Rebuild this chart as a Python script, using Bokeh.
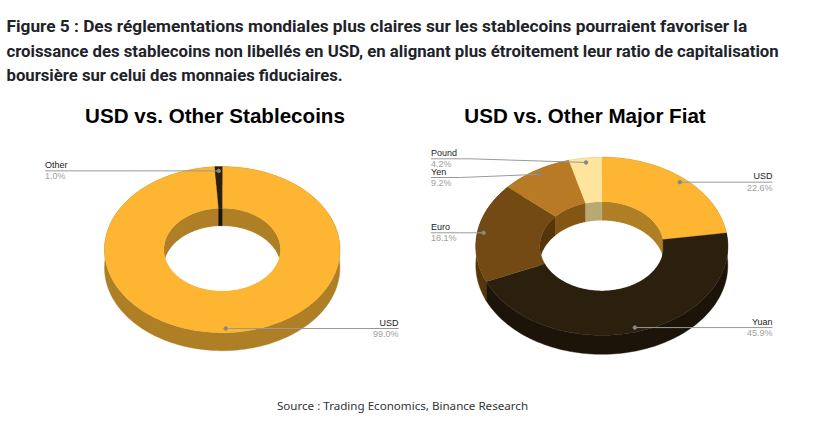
import numpy as np
from bokeh.plotting import figure
from bokeh.models import Range1d
from bokeh.core.properties import value
from bokeh.embed import file_html
from bokeh.resources import INLINE

HEADING = [
    "Figure 5 : Des réglementations mondiales plus claires sur les stablecoins pourraient favoriser la",
    "croissance des stablecoins non libellés en USD, en alignant plus étroitement leur ratio de capitalisation",
    "boursière sur celui des monnaies fiduciaires.",
]
SOURCE = "Source : Trading Economics, Binance Research"

left_title = "USD vs. Other Stablecoins"
left_labels = ["USD", "Other"]
left_values = [99.0, 1.0]
left_top = ["#FDB532", "#2B1F0E"]
left_wall = ["#AF7F26", "#1C1309"]

right_title = "USD vs. Other Major Fiat"
right_labels = ["USD", "Yuan", "Euro", "Yen", "Pound"]
right_values = [22.6, 45.9, 18.1, 9.2, 4.2]
right_top = ["#FDB532", "#2B1F0E", "#734A13", "#B87A24", "#FFE49D"]
right_wall = ["#AF7F26", "#1C1309", "#553609", "#835614", "#B8A872"]

W, H = 826, 422
p = figure(width=W, height=H, output_backend="svg", toolbar_location=None,
           x_range=Range1d(0, W), y_range=Range1d(H, 0),
           min_border=0, outline_line_color=None, margin=0)
p.axis.visible = False
p.grid.visible = False
p.xaxis.visible = False
p.yaxis.visible = False


def arc(cx, cy, rx, ry, a0, a1, dy=0.0):
    n = max(4, int(abs(a1 - a0) / 1.5))
    t = np.radians(np.linspace(a0, a1, n))
    return cx + rx * np.sin(t), cy - ry * np.cos(t) + dy


def donut(values, top, wall, cx, cy, rx, ry, irx, iry, depth):
    v = np.asarray(values, dtype=float)
    edges = np.concatenate([[0], np.cumsum(v) / v.sum() * 360])
    for i in range(len(v)):
        x, y = arc(cx, cy, rx, ry, edges[i], edges[i + 1])
        x2, y2 = x[::-1], y[::-1] + depth
        p.patch(np.r_[x, x2], np.r_[y, y2], fill_color=wall[i], line_color=wall[i], line_width=0.4)
    for i in range(len(v)):
        x, y = arc(cx, cy, irx, iry, edges[i], edges[i + 1])
        x2, y2 = x[::-1], y[::-1] + depth
        p.patch(np.r_[x, x2], np.r_[y, y2], fill_color=wall[i], line_color=wall[i], line_width=0.4)
    xs = np.linspace(-irx, irx, 361)
    h = iry * np.sqrt(np.clip(1 - (xs / irx) ** 2, 0, 1))
    upper = cy + depth - h
    lower = cy + h
    keep = upper <= lower
    p.patch(np.r_[cx + xs[keep], cx + xs[keep][::-1]], np.r_[upper[keep], lower[keep][::-1]],
            fill_color="white", line_color="white", line_width=0.4)
    for i in range(len(v)):
        x, y = arc(cx, cy, rx, ry, edges[i], edges[i + 1])
        x2, y2 = arc(cx, cy, irx, iry, edges[i + 1], edges[i])
        p.patch(np.r_[x, x2], np.r_[y, y2], fill_color=top[i], line_color=top[i], line_width=0.3)
    mid = np.radians((edges[:-1] + edges[1:]) / 2)
    return cx + 0.95 * rx * np.sin(mid), cy - 0.95 * ry * np.cos(mid)


def leader(ax, ay, tx, ty, elbow, labels, pct, align):
    px = [ax, elbow, tx] if elbow is not None else [ax, tx]
    py = [ay, ty, ty] if elbow is not None else [ay, ty]
    p.line(px, py, line_color="#999999", line_width=1)
    p.scatter([ax], [ay], size=3.5, fill_color="#888888", line_color="#888888")
    p.text([tx], [ty - 1], text=[labels], text_font=value("Liberation Sans"), text_font_size="9px",
           text_color="#222222", text_align=align, text_baseline="bottom")
    p.text([tx], [ty + 0.5], text=[pct], text_font=value("Liberation Sans"), text_font_size="9px",
           text_color="#9e9e9e", text_align=align, text_baseline="top")


lx, ly = donut(left_values, left_top, left_wall, 221.7, 249.2, 117.7, 83, 58.3, 41.5, 18)
rx, ry = donut(right_values, right_top, right_wall, 601.3, 245.8, 126, 89, 62, 44.6, 19)

leader(lx[0], ly[0], 398, ly[0], None, left_labels[0], f"{left_values[0]:.1f}%", "right")
leader(lx[1], ly[1], 44.5, ly[1], None, left_labels[1], f"{left_values[1]:.1f}%", "left")
leader(rx[0], ry[0], 772, ry[0], None, right_labels[0], f"{right_values[0]:.1f}%", "right")
leader(rx[1], ry[1], 772, ry[1], None, right_labels[1], f"{right_values[1]:.1f}%", "right")
leader(rx[2], ry[2], 430.5, ry[2], None, right_labels[2], f"{right_values[2]:.1f}%", "left")
leader(rx[3], ry[3], 430.5, 177, 460, right_labels[3], f"{right_values[3]:.1f}%", "left")
leader(rx[4], ry[4], 430.5, 158.3, 470, right_labels[4], f"{right_values[4]:.1f}%", "left")

for t, y, fs in zip(HEADING, [25, 50, 75], ["17.25px", "16.75px", "16.7px"]):
    p.text([6], [y], text=[t], text_font=value("Roboto"), text_font_style="bold",
           text_font_size=fs, text_color="#1E2329", text_baseline="middle")
p.text([214.5], [115], text=[left_title], text_font=value("Liberation Sans"), text_font_style="bold",
       text_font_size="20.6px", text_color="#000000", text_align="center", text_baseline="middle")
p.text([584.5], [115], text=[right_title], text_font=value("Liberation Sans"), text_font_style="bold",
       text_font_size="20.6px", text_color="#000000", text_align="center", text_baseline="middle")
p.text([402], [405], text=[SOURCE], text_font=value("Noto Sans"), text_font_size="11.6px",
       text_color="#333333", text_align="center", text_baseline="middle")

open("out.html", "w").write(file_html(p, INLINE))
